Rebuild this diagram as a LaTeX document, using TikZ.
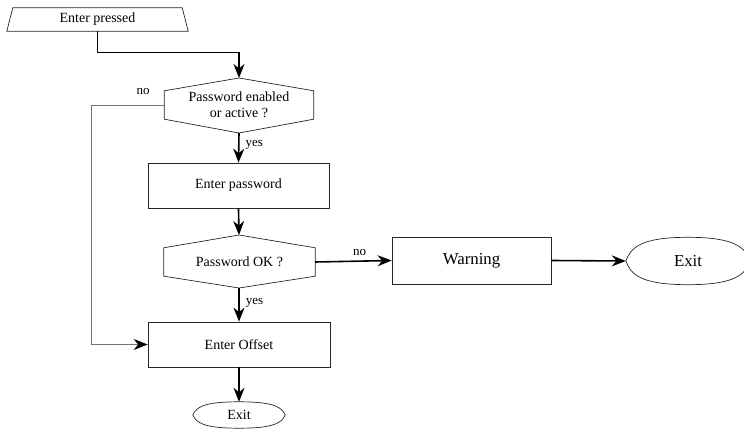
\documentclass[tikz,border=0pt]{standalone}
\usepackage{fontspec}
\setmainfont{Liberation Serif}
\usetikzlibrary{arrows.meta,calc}
\newcommand{\lensshape}[4]{%
 \draw[boxline] (#1.west) .. controls ([xshift=#2,yshift=#3]#1.west) and ([xshift=#4]#1.north west) .. (#1.north) .. controls ([xshift=-#4]#1.north east) and ([xshift=-#2,yshift=#3]#1.east) .. (#1.east) .. controls ([xshift=-#2,yshift=-#3]#1.east) and ([xshift=-#4]#1.south east) .. (#1.south) .. controls ([xshift=#4]#1.south west) and ([xshift=#2,yshift=-#3]#1.west) .. (#1.west);}
\begin{document}
\begin{tikzpicture}[x=1pt,y=-1pt,
  txt/.style={font=\fontsize{14}{16}\selectfont, inner sep=0pt, align=center},
  big/.style={font=\fontsize{16.8}{20}\selectfont},
  lbl/.style={font=\fontsize{13}{15}\selectfont, inner sep=0pt},
  boxline/.style={draw=black!85, line width=0.7pt},
  tip/.style={-{Stealth[length=14pt,width=11pt,inset=4.5pt,color=black]}},
  flow/.style={line width=1.6pt, tip},
  thinline/.style={line width=0.6pt},
  loopline/.style={draw=black!55, line width=0.9pt, tip},
]
\useasboundingbox (0,0) rectangle (744,430);

% nodes
\node[txt, minimum width=181pt, minimum height=23pt] (ep) at (97.5,19.5) {Enter pressed};
\draw[boxline] ([xshift=6pt]ep.north west) -- ([xshift=-6pt]ep.north east) -- (ep.south east) -- (ep.south west) -- cycle;

\node[txt, minimum width=149pt, minimum height=28pt] (d1) at (239,105) {Password enabled\\or active ?};
\coordinate (d1t) at (239,78);
\coordinate (d1b) at (239,133);
\draw[boxline] (d1.north west) -- (d1t) -- (d1.north east) -- (d1.south east) -- (d1b) -- (d1.south west) -- cycle;

\node[txt, boxline, minimum width=181pt, minimum height=45pt] (ep2) at (238.5,185.5) {Enter password};

\node[txt, minimum width=151pt, minimum height=28pt] (d2) at (239.5,262) {Password OK ?};
\coordinate (d2t) at (239,235);
\coordinate (d2b) at (239,288);
\draw[boxline] (d2.north west) -- (d2t) -- (d2.north east) -- (d2.south east) -- (d2b) -- (d2.south west) -- cycle;

\node[txt, big, boxline, minimum width=159pt, minimum height=47pt] (warn) at (471.5,260.5) {Warning};

\node[txt, big, minimum width=124pt, minimum height=47pt] (x1) at (688,261) {Exit};
\lensshape{x1}{5pt}{13pt}{14pt}

\node[txt, boxline, minimum width=182pt, minimum height=45pt] (eo) at (239,344.5) {Enter Offset};

\node[txt, minimum width=92pt, minimum height=26pt] (x2) at (239,415) {Exit};
\lensshape{x2}{3.5pt}{7.5pt}{10pt}

% connectors
\coordinate (c1) at (239,52);
\draw[thinline] (ep.south) |- (c1);
\draw[flow] (c1) -- (d1t);

\draw[loopline] (d1.west) -- ++(-73,0) |- (eo.west);
\node[lbl] at (143,92) {no};

\draw[flow] (d1b) -- (ep2.north) node[lbl, pos=0.4, right=6pt] {yes};
\draw[flow] (ep2.south) -- (d2t);
\draw[flow] (d2.east) -- (warn.west) node[lbl, pos=0.58, above=5pt] {no};
\draw[flow] (warn.east) -- (x1.west);
\draw[flow] (d2b) -- (eo.north) node[lbl, pos=0.45, right=6pt] {yes};
\draw[flow] (eo.south) -- (x2.north);
\end{tikzpicture}
\end{document}
